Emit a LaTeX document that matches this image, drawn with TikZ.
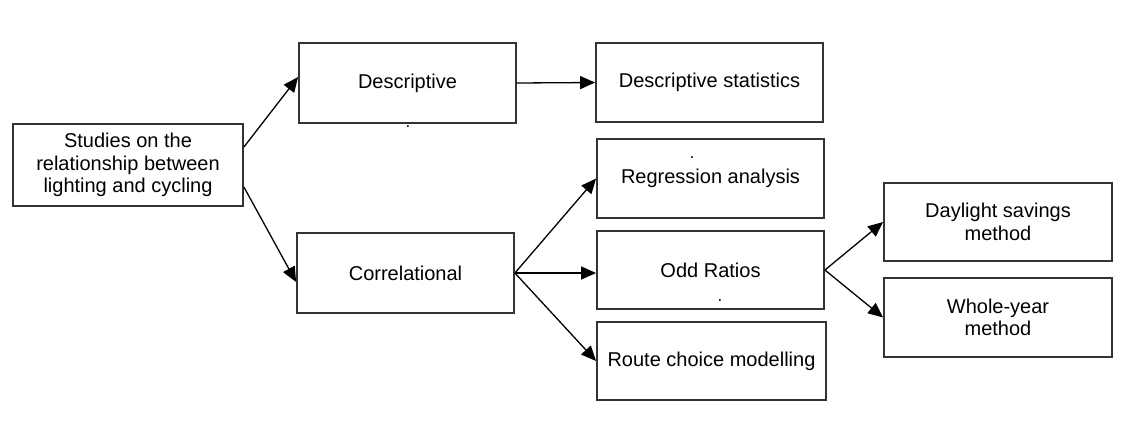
\documentclass[tikz,border=0pt]{standalone}
\usepackage{fontspec}
\setmainfont{Liberation Sans}
\usetikzlibrary{arrows.meta}

\begin{document}
\begin{tikzpicture}[x=1pt,y=-1pt,font=\fontsize{20}{22.5}\selectfont,
  box/.style n args={2}{draw=black!80,line width=1.8pt,minimum width=#1pt,minimum height=#2pt,align=center,inner sep=2pt},
  arr/.style={-{Triangle[length=15pt,width=13pt]},line width=1.3pt},
  dotmark/.style={inner sep=0pt,font=\fontsize{17}{17}\selectfont}]
\useasboundingbox (0,0) rectangle (1127,445);
\node[box={230}{82}] (studies) at (128,165) {Studies on the\\relationship between\\lighting and cycling};
\node[box={217}{80}] (desc) at (407.5,83) {Descriptive};
\node[box={217}{80}] (corr) at (405.5,273) {Correlational};
\node[box={227}{79}] (descstat) at (709.5,82.5) {Descriptive statistics};
\node[box={227}{79}] (regr) at (710.5,178.5) {Regression analysis};
\node[box={227}{78}] (odds) at (710.5,270) {Odd Ratios};
\node[box={229}{78}] (route) at (711.5,361) {Route choice modelling};
\node[box={228}{78}] (daylight) at (998,222) {Daylight savings\\method};
\node[box={228}{79}] (wholeyear) at (998,317.5) {Whole-year\\method};
\node[dotmark] (d1) at (408,126.5) {.};
\node[dotmark] (d2) at (692,157.5) {.};
\node[dotmark] (d3) at (720,300.5) {.};
\draw[arr] ([yshift=18pt]studies.east) -- ([yshift=6pt]desc.west);
\draw[arr] ([yshift=-22pt]studies.east) -- ([yshift=-9pt]corr.west);
\draw[arr] (desc.east) -- (descstat.west);
\draw[arr] (corr.east) -- (regr.west);
\draw[arr] (corr.east) -- (corr.east -| odds.west);
\draw[arr] (corr.east) -- (route.west);
\draw[arr] (odds.east) -- (daylight.west);
\draw[arr] (odds.east) -- (wholeyear.west);
\end{tikzpicture}
\end{document}
